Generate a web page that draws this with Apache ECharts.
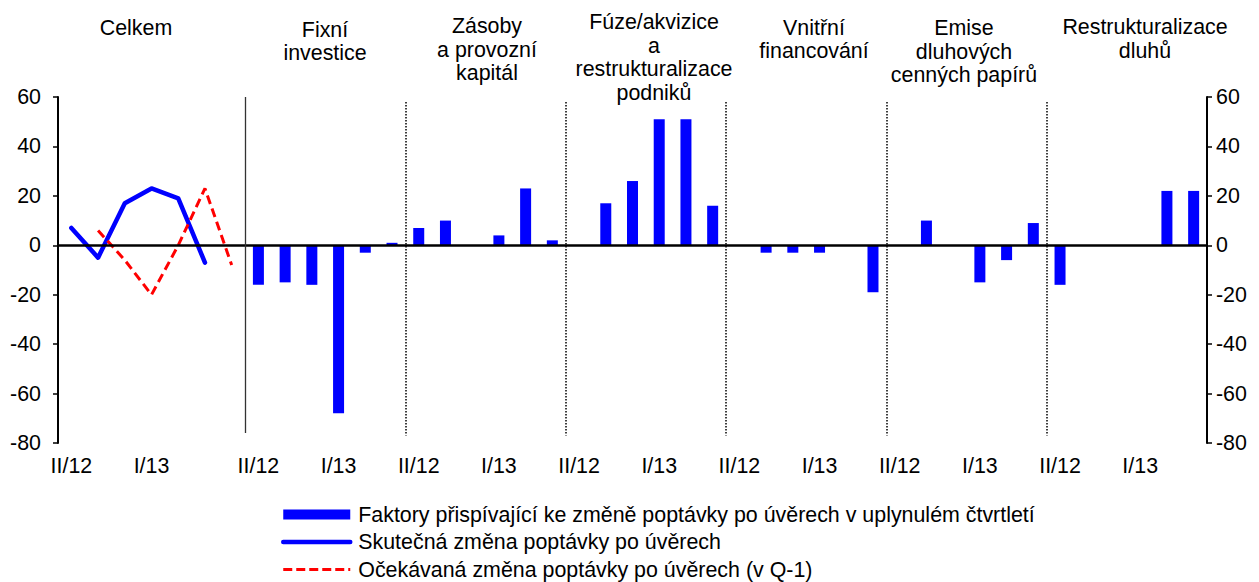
<!DOCTYPE html>
<html>
<head>
<meta charset="utf-8">
<script src="https://cdn.jsdelivr.net/npm/echarts@6/dist/echarts.min.js"></script>
<style>
  html, body { margin: 0; padding: 0; background: #fff; }
  #chart { width: 1259px; height: 582px; }
</style>
</head>
<body>
<div id="chart"></div>
<script>
// čtvrtletí na ose x
const quartersTotal = ['II/12', 'III/12', 'IV/12', 'I/13', 'II/13', 'III/13', 'IV/13'];
const quartersFactor = ['II/12', 'III/12', 'IV/12', 'I/13', 'II/13', 'III/13'];
const shownQuarters = ['II/12', 'I/13'];

// nadpisy skupin
const groupTitles = [
  'Celkem',
  'Fixní\ninvestice',
  'Zásoby\na provozní\nkapitál',
  'Fúze/akvizice\na\nrestrukturalizace\npodniků',
  'Vnitřní\nfinancování',
  'Emise\ndluhových\ncenných papírů',
  'Restrukturalizace\ndluhů'
];

// Celkem - čáry
const actualDemand = [7, -5, 17, 23, 19, -7, null];
const expectedDemand = [null, 6, -6, -20, 0, 23, -8];

// faktory - sloupce
const fixedInvestment = [-16, -15, -16, -68, -3, 1];
const inventories = [7, 10, 0, 4, 23, 2];
const mergers = [0, 17, 26, 51, 51, 16];
const internalFinancing = [0, -3, -3, -3, 0, -19];
const debtSecurities = [0, 10, 0, -15, -6, 9];
const debtRestructuring = [-16, 0, 0, 0, 22, 22];
const factorGroups = [fixedInvestment, inventories, mergers, internalFinancing, debtSecurities, debtRestructuring];

const seriesNames = [
  'Faktory přispívající ke změně poptávky po úvěrech v uplynulém čtvrtletí',
  'Skutečná změna poptávky po úvěrech',
  'Očekávaná změna poptávky po úvěrech (v Q-1)'
];

// sestavení dat pro osy
const categories = quartersTotal.concat(...factorGroups.map(() => quartersFactor));
const padFactor = factorGroups.flatMap(() => quartersFactor.map(() => null));
const barData = quartersTotal.map(() => null).concat(...factorGroups);
const actualData = actualDemand.concat(padFactor);
const expectedData = expectedDemand.concat(padFactor);

// hranice skupin (v jednotkách kategorií)
const boundaries = [];
let acc = quartersTotal.length;
factorGroups.forEach((g, i) => {
  if (i > 0) acc += g.length;
  boundaries.push(acc);
});

const FONT = "'Liberation Sans', Arial, sans-serif";
const FS = 21.4;

// rozložení nadpisů (střed x, střed prvního řádku y)
const titleLayout = [
  [136, 28], [325, 29.5], [487, 26], [654, 22], [814, 27.5], [964, 28], [1145, 27]
];

const chart = echarts.init(document.getElementById('chart'), null, { renderer: 'svg' });

const yAxisBase = {
  type: 'value',
  min: -80,
  max: 60,
  interval: 20,
  splitLine: { show: false },
  axisLine: { show: true, lineStyle: { color: '#000', width: 2 } },
  axisTick: { show: true, inside: false, length: 5, lineStyle: { color: '#000', width: 1.5 } },
  axisLabel: { color: '#000', fontSize: FS, fontFamily: FONT }
};

chart.setOption({
  animation: false,
  backgroundColor: '#fff',
  grid: { left: 58, right: 52, top: 97, bottom: 139, containLabel: false },
  xAxis: [
    {
      type: 'category',
      data: categories,
      axisLine: { show: false },
      axisTick: { show: false },
      axisLabel: {
        color: '#000',
        fontSize: FS,
        fontFamily: FONT,
        margin: 12,
        interval: (idx, val) => shownQuarters.includes(val)
      }
    },
    { type: 'value', min: 0, max: categories.length, show: false }
  ],
  yAxis: [
    Object.assign({}, yAxisBase, { position: 'left', axisLabel: Object.assign({}, yAxisBase.axisLabel, { margin: 17 }) }),
    Object.assign({}, yAxisBase, { position: 'right', axisLabel: Object.assign({}, yAxisBase.axisLabel, { margin: 9 }) })
  ],
  legend: {
    orient: 'vertical',
    left: 281,
    top: 504,
    height: 78,
    padding: 0,
    itemWidth: 67,
    itemHeight: 10,
    itemGap: 6.5,
    textStyle: { color: '#000', fontSize: FS, fontFamily: FONT, lineHeight: 21, padding: [0, 0, 0, 3] },
    data: [
      { name: seriesNames[0], icon: 'rect' },
      { name: seriesNames[1], itemStyle: { opacity: 0 }, lineStyle: { width: 4.5, cap: 'round', color: '#0000ff' } },
      { name: seriesNames[2], itemStyle: { opacity: 0 }, lineStyle: { width: 3, type: [9, 4], color: '#ff0000' } }
    ]
  },
  graphic: groupTitles.map((t, i) => ({
    type: 'text',
    x: titleLayout[i][0],
    y: titleLayout[i][1] - 11.75,
    silent: true,
    style: {
      text: t,
      fill: '#000',
      fontSize: FS,
      fontFamily: FONT,
      lineHeight: 23.5,
      align: 'center',
      textAlign: 'center',
      verticalAlign: 'top',
      textVerticalAlign: 'top'
    }
  })),
  series: [
    {
      name: seriesNames[0],
      type: 'bar',
      data: barData,
      barWidth: 11,
      itemStyle: { color: '#0000ff' },
      markLine: {
        silent: true,
        symbol: ['none', 'none'],
        label: { show: false },
        lineStyle: { color: '#000', width: 2.5, type: 'solid' },
        data: [{ yAxis: 0 }]
      }
    },
    {
      name: seriesNames[1],
      type: 'line',
      data: actualData,
      symbol: 'none',
      itemStyle: { color: '#0000ff' },
      lineStyle: { color: '#0000ff', width: 4.5, cap: 'round', join: 'round' }
    },
    {
      name: seriesNames[2],
      type: 'line',
      data: expectedData,
      symbol: 'none',
      itemStyle: { color: '#ff0000' },
      lineStyle: { color: '#ff0000', width: 3, type: [9, 5] }
    },
    {
      name: 'hranice',
      type: 'line',
      xAxisIndex: 1,
      yAxisIndex: 0,
      data: [],
      markLine: {
        silent: true,
        symbol: ['none', 'none'],
        label: { show: false },
        data: boundaries.map((b, i) => [
          { coord: [b, i === 0 ? 60 : 58], lineStyle: { color: i === 0 ? '#333' : '#000', width: i === 0 ? 1.3 : 1.5, type: i === 0 ? 'solid' : [1.5, 1.5] } },
          { coord: [b, i === 0 ? -76 : -77] }
        ])
      }
    }
  ]
});
</script>
</body>
</html>
